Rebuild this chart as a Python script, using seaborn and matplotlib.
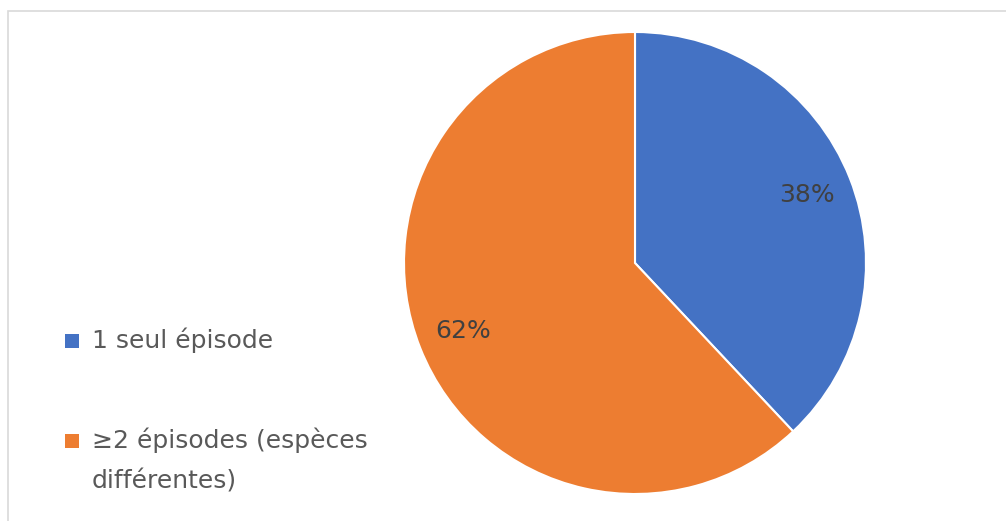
import matplotlib.pyplot as plt
import seaborn as sns
from matplotlib.patches import Rectangle

sns.set_style('white')
plt.rcParams['font.family'] = ['DejaVu Sans']

labels = ['1 seul épisode', '≥2 épisodes (espèces\ndifférentes)']
values = [38, 62]
colors = ['#4472C4', '#ED7D31']

W, H = 1006, 521
fig = plt.figure(figsize=(W/100, H/100), dpi=100)

# cadre gris autour du graphique
fig.patches.append(Rectangle((8/W, -0.05), 1.1, 1 - 11/H + 0.05, transform=fig.transFigure,
                             fill=False, edgecolor='#d9d9d9', linewidth=1.2))

# centre (635, 263), rayon 231 px
cx, cy, r = 635, 263, 231
ax = fig.add_axes([(cx - r)/W, (H - cy - r)/H, 2*r/W, 2*r/H])
wedges, texts, autotexts = ax.pie(values, colors=colors, startangle=90, counterclock=False,
                                  autopct='%1.0f%%', pctdistance=0.8, radius=1,
                                  wedgeprops=dict(edgecolor='white', linewidth=1.5),
                                  textprops=dict(color='#404040', fontsize=18))
ax.set_xlim(-1, 1)
ax.set_ylim(-1, 1)
ax.set_aspect('equal')

# légende à gauche (carré aligné sur la première ligne)
leg_y = [341, 441]
for lab, col, y in zip(labels, colors, leg_y):
    fig.patches.append(Rectangle((65/W, 1 - (y + 7)/H), 14/W, 14/H, transform=fig.transFigure,
                                 facecolor=col, edgecolor='none'))
    for i, line in enumerate(lab.split('\n')):
        fig.text(92/W, 1 - (y + 7 + i*40)/H, line, fontsize=18, color='#595959',
                 ha='left', va='baseline')

fig.savefig('out.png', dpi=100)
